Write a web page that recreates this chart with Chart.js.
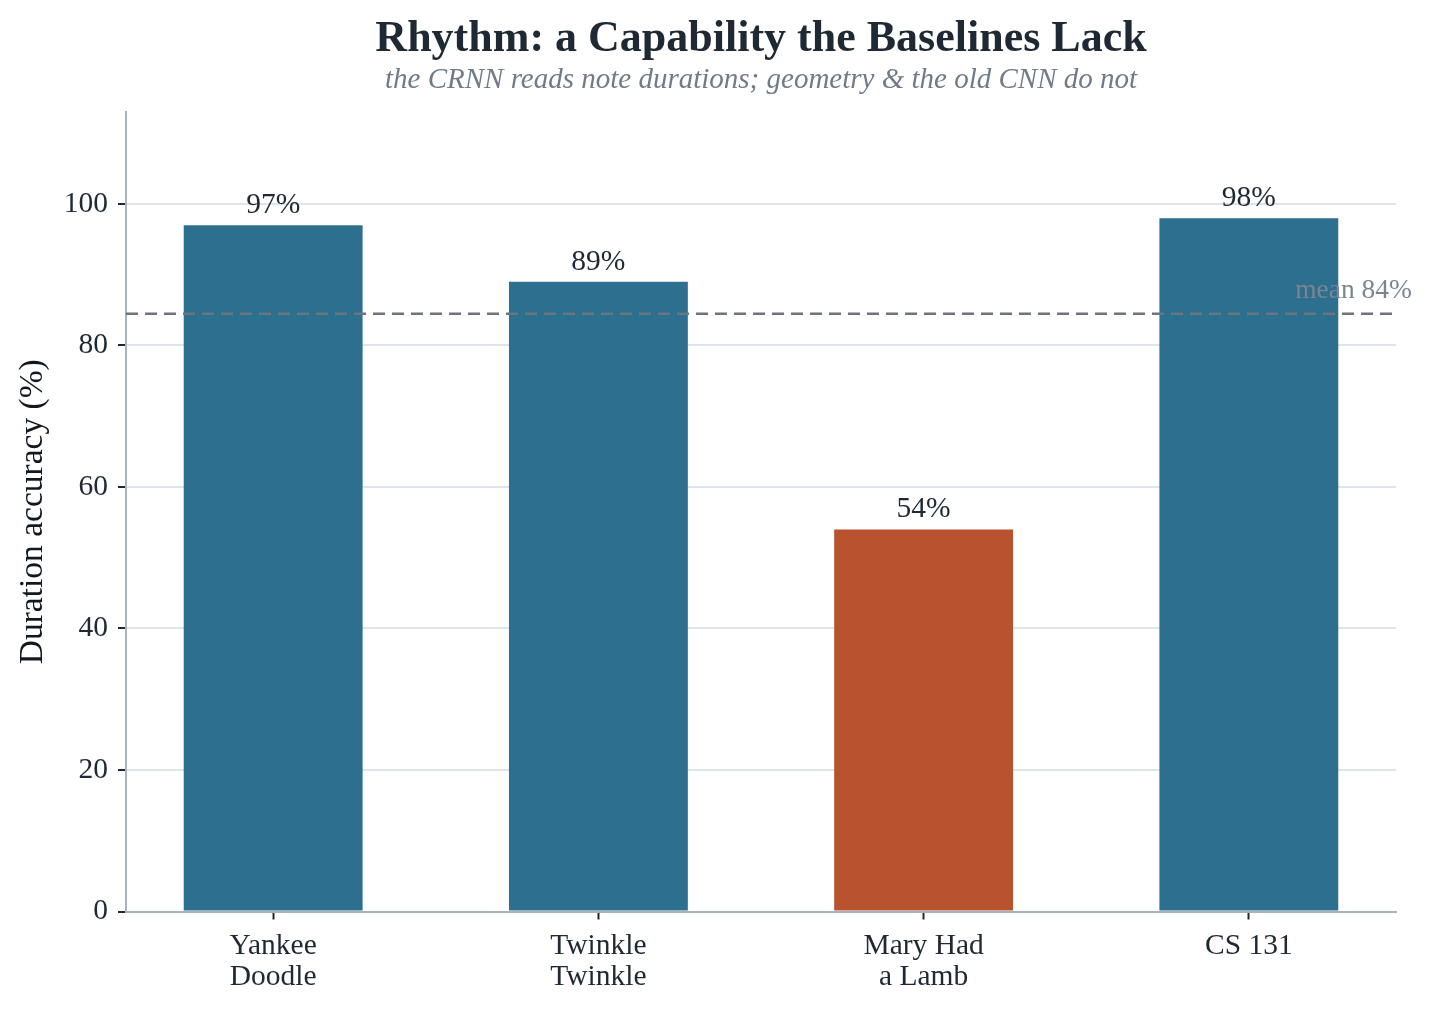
<!DOCTYPE html>
<html>
<head>
<meta charset="utf-8">
<script src="https://cdn.jsdelivr.net/npm/chart.js@4/dist/chart.umd.min.js"></script>
<style>
html,body{margin:0;padding:0;background:#fff}
#wrap{width:1432px;height:1010px}
</style>
</head>
<body>
<div id="wrap"><canvas id="c"></canvas></div>
<script>
var songs = [["Yankee","Doodle"],["Twinkle","Twinkle"],["Mary Had","a Lamb"],["CS 131"]]
var accuracy = [97, 89, 54, 98]
var yTicks = [0, 20, 40, 60, 80, 100]
var titleText = "Rhythm: a Capability the Baselines Lack"
var subText = "the CRNN reads note durations; geometry & the old CNN do not"
var yLabel = "Duration accuracy (%)"

var serif = '"Liberation Serif", "Times New Roman", serif'
var ink = '#1f2933'
var blue = '#2d6f8f', red = '#b9532f'
var low = Math.min.apply(null, accuracy)
var mean = accuracy.reduce(function(a,b){return a+b},0)/accuracy.length

var points = accuracy.map(function(v,i){ return {x:i, y:v} })
var colors = accuracy.map(function(v){ return v === low ? red : blue })

var extras = {
    id:'extras',
    afterDatasetsDraw: function(chart){
        var ctx = chart.ctx, a = chart.chartArea, ys = chart.scales.y
        var my = ys.getPixelForValue(mean)
        ctx.save()
        // mean line over the bars
        ctx.strokeStyle = '#6b7580'
        ctx.lineWidth = 2.5
        ctx.setLineDash([12,7])
        ctx.beginPath()
        ctx.moveTo(a.left, my)
        ctx.lineTo(a.right, my)
        ctx.stroke()
        ctx.setLineDash([])

        ctx.font = '27.5px ' + serif
        ctx.fillStyle = '#7a8591'
        ctx.textAlign = 'right'
        ctx.textBaseline = 'alphabetic'
        ctx.fillText('mean ' + Math.floor(mean) + '%', a.right + 16, my - 16)

        // value labels
        ctx.fillStyle = ink
        ctx.textAlign = 'center'
        ctx.font = '29.5px ' + serif
        chart.getDatasetMeta(0).data.forEach(function(bar,i){
            ctx.fillText(accuracy[i] + '%', bar.x, bar.y - 12)
        })
        ctx.restore()
    },
    afterDraw: function(chart){
        var ctx = chart.ctx, a = chart.chartArea
        var cx = (a.left + a.right)/2
        ctx.save()
        ctx.textAlign = 'center'
        ctx.textBaseline = 'alphabetic'
        ctx.fillStyle = ink
        ctx.font = 'bold 44px ' + serif
        ctx.fillText(titleText, cx, 51)
        ctx.fillStyle = '#6f7b88'
        ctx.font = 'italic 29px ' + serif
        ctx.fillText(subText, cx, 88)

        ctx.translate(42, (a.top + a.bottom)/2)
        ctx.rotate(-Math.PI/2)
        ctx.fillStyle = '#111820'
        ctx.font = '33.5px ' + serif
        ctx.fillText(yLabel, 0, 0)
        ctx.restore()
    }
}

var chart = new Chart(document.getElementById('c'), {
    type: 'bar',
    data: {
        datasets: [{
            data: points,
            backgroundColor: colors,
            borderWidth: 0,
            barPercentage: 0.55,
            categoryPercentage: 1
        }]
    },
    options: {
        responsive: true,
        maintainAspectRatio: false,
        animation: false,
        layout: { padding: { top: 112, right: 36, left: 0, bottom: 0 } },
        plugins: { legend: {display:false}, tooltip: {enabled:false} },
        scales: {
            x: {
                type: 'linear',
                offset: false,
                min: -0.4525,
                max: 3.4525,
                afterBuildTicks: function(s){ s.ticks = songs.map(function(t,i){ return {value:i} }) },
                afterFit: function(s){ s.height = 98.5 },
                ticks: {
                    callback: function(v){ return songs[v] },
                    color: ink,
                    font: { family: serif, size: 29.5, lineHeight: 1.05 },
                    padding: 11,
                    maxRotation: 0,
                    autoSkip: false
                },
                grid: { offset: false, drawOnChartArea: false, tickLength: 8, tickWidth: 2, tickColor: ink },
                border: { color: '#a7b2bd', width: 2 }
            },
            y: {
                min: 0,
                max: 113,
                afterBuildTicks: function(s){ s.ticks = yTicks.map(function(v){ return {value:v} }) },
                afterFit: function(s){ s.width = 126 },
                ticks: {
                    color: ink,
                    font: { family: serif, size: 29.5 },
                    padding: 10
                },
                grid: {
                    color: function(c){ return c.tick && c.tick.value === 0 ? 'rgba(0,0,0,0)' : '#dfe4ea' },
                    lineWidth: 2,
                    tickLength: 8,
                    tickWidth: 2,
                    tickColor: ink
                },
                border: { color: '#a7b2bd', width: 2 }
            }
        }
    },
    plugins: [extras]
})
</script>
</body>
</html>
